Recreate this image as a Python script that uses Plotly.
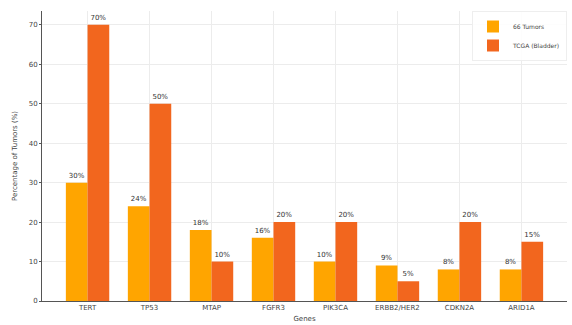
import plotly.graph_objects as go

genes = ["TERT", "TP53", "MTAP", "FGFR3", "PIK3CA", "ERBB2/HER2", "CDKN2A", "ARID1A"]
tumors_66 = [30, 24, 18, 16, 10, 9, 8, 8]
tcga_bladder = [70, 50, 10, 20, 20, 5, 20, 15]
series_names = ["66 Tumors", "TCGA (Bladder)"]
colors = ["#FFA500", "#F2661E"]
yticks = [0, 10, 20, 30, 40, 50, 60, 70]

width = 0.35
x_idx = list(range(len(genes)))

fig = go.Figure()
for name, vals, col, off in [(series_names[0], tumors_66, colors[0], -width / 2),
                             (series_names[1], tcga_bladder, colors[1], width / 2)]:
    fig.add_trace(go.Bar(
        x=[i + off for i in x_idx], y=vals, width=width, name=name,
        marker=dict(color=col, line=dict(width=0)),
        text=[f"{v}%" for v in vals], textposition="outside",
        textfont=dict(size=7, color="#333333"), cliponaxis=False,
    ))

fig.update_layout(
    width=572, height=325,
    margin=dict(l=42, r=5, t=11, b=24),
    paper_bgcolor="white", plot_bgcolor="white",
    font=dict(family="DejaVu Sans", size=7, color="#444444"),
    barmode="overlay",
    showlegend=True,
    legend=dict(x=1.0, y=1.0, xanchor="right", yanchor="top",
                bgcolor="rgba(255,255,255,0.9)", bordercolor="#eeeeee", borderwidth=1,
                font=dict(size=6, color="#444444"), itemwidth=30, tracegroupgap=0),
    uniformtext=dict(minsize=6, mode="show"),
)
fig.update_xaxes(
    range=[-0.735, len(genes) - 1 + 0.735],
    tickmode="array", tickvals=x_idx, ticktext=genes,
    showgrid=True, gridcolor="#ececec", gridwidth=1,
    showline=True, linecolor="#555555", linewidth=1,
    ticks="", tickfont=dict(size=7, color="#444444"),
    title=dict(text="Genes", font=dict(size=7, color="#444444"), standoff=4),
    zeroline=False, automargin=False,
)
fig.update_yaxes(
    range=[0, 73.5],
    tickmode="array", tickvals=yticks,
    showgrid=True, gridcolor="#ececec", gridwidth=1,
    showline=True, linecolor="#555555", linewidth=1,
    ticks="outside", ticklen=2, tickcolor="#555555",
    tickfont=dict(size=7, color="#444444"),
    title=dict(text="Percentage of Tumors (%)", font=dict(size=7, color="#444444"), standoff=10),
    zeroline=False, automargin=False,
)

fig.write_html("out.html")
